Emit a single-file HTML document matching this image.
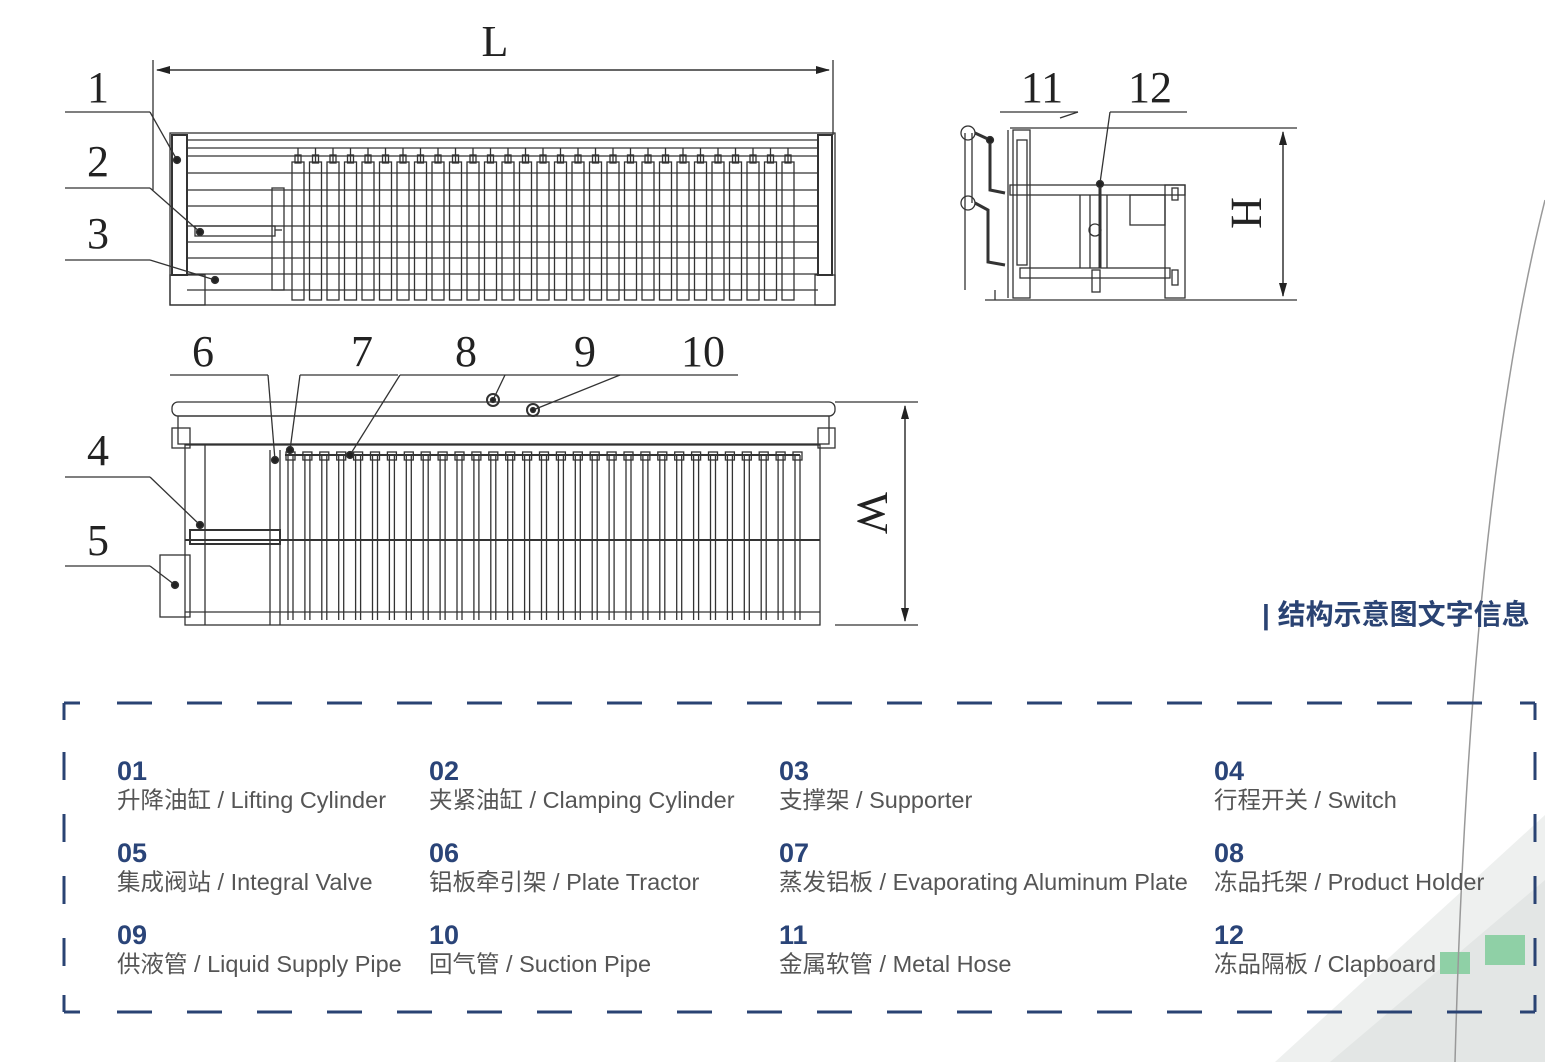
<!DOCTYPE html>
<html><head><meta charset="utf-8"><style>
html,body{margin:0;padding:0;background:#fff;}
svg{display:block;}
.num{font-family:"Liberation Sans",sans-serif;font-weight:bold;font-size:27px;fill:#2a4478;}
.txt{font-family:"Liberation Sans","Noto Sans CJK SC",sans-serif;font-size:23.5px;fill:#555;}
.lab{font-family:"Liberation Serif",serif;font-size:44px;fill:#222;}
</style></head><body>
<svg id="s" width="1545" height="1062" viewBox="0 0 1545 1062" xmlns="http://www.w3.org/2000/svg">
<defs>
<marker id="ar" markerWidth="14" markerHeight="8" refX="13" refY="4" orient="auto-start-reverse" markerUnits="userSpaceOnUse"><path d="M0,0 L14,4 L0,8 z" fill="#222"/></marker>
</defs>
<path d="M1275,1062 L1545,815 L1545,1062 z" fill="#eef0ef"/>
<path d="M1330,1062 L1545,880 L1545,1062 z" fill="#e3e6e5"/>
<rect x="1440" y="952" width="30" height="22" fill="#8fd0a6"/>
<rect x="1485" y="935" width="40" height="30" fill="#8fd0a6"/>
<path d="M1545,200 Q1470,500 1455,1062" stroke="#999" stroke-width="1.5" fill="none"/>
<g id="draw" stroke="#333" stroke-width="1.3" fill="none"></g>
<text class="lab" x="495" y="56" text-anchor="middle" font-size="52">L</text>
<text class="lab" x="98" y="102" text-anchor="middle">1</text>
<text class="lab" x="98" y="176" text-anchor="middle">2</text>
<text class="lab" x="98" y="248" text-anchor="middle">3</text>
<text class="lab" x="98" y="465" text-anchor="middle">4</text>
<text class="lab" x="98" y="555" text-anchor="middle">5</text>
<text class="lab" x="203" y="366" text-anchor="middle">6</text>
<text class="lab" x="362" y="366" text-anchor="middle">7</text>
<text class="lab" x="466" y="366" text-anchor="middle">8</text>
<text class="lab" x="585" y="366" text-anchor="middle">9</text>
<text class="lab" x="703" y="366" text-anchor="middle">10</text>
<text class="lab" x="1042" y="102" text-anchor="middle">11</text>
<text class="lab" x="1150" y="102" text-anchor="middle">12</text>
<text class="lab" transform="translate(1232,213) rotate(90)" text-anchor="middle" font-size="44">H</text>
<text class="lab" transform="translate(858,513) rotate(90)" text-anchor="middle" font-size="44">W</text>
<text x="1262" y="624" font-family="Liberation Sans,Noto Sans CJK SC,sans-serif" font-size="28" font-weight="bold" fill="#2a4373">| 结构示意图文字信息</text>
<g id="leg"></g>
<text class="num" x="117" y="780">01</text><text class="txt" x="117" y="808">升降油缸 / Lifting Cylinder</text>
<text class="num" x="429" y="780">02</text><text class="txt" x="429" y="808">夹紧油缸 / Clamping Cylinder</text>
<text class="num" x="779" y="780">03</text><text class="txt" x="779" y="808">支撑架 / Supporter</text>
<text class="num" x="1214" y="780">04</text><text class="txt" x="1214" y="808">行程开关 / Switch</text>
<text class="num" x="117" y="862">05</text><text class="txt" x="117" y="890">集成阀站 / Integral Valve</text>
<text class="num" x="429" y="862">06</text><text class="txt" x="429" y="890">铝板牵引架 / Plate Tractor</text>
<text class="num" x="779" y="862">07</text><text class="txt" x="779" y="890">蒸发铝板 / Evaporating Aluminum Plate</text>
<text class="num" x="1214" y="862">08</text><text class="txt" x="1214" y="890">冻品托架 / Product Holder</text>
<text class="num" x="117" y="944">09</text><text class="txt" x="117" y="972">供液管 / Liquid Supply Pipe</text>
<text class="num" x="429" y="944">10</text><text class="txt" x="429" y="972">回气管 / Suction Pipe</text>
<text class="num" x="779" y="944">11</text><text class="txt" x="779" y="972">金属软管 / Metal Hose</text>
<text class="num" x="1214" y="944">12</text><text class="txt" x="1214" y="972">冻品隔板 / Clapboard</text>
</svg>
<script>
var g=document.getElementById('draw'),NS='http://www.w3.org/2000/svg';
function el(t,a,p){var e=document.createElementNS(NS,t);for(var k in a)e.setAttribute(k,a[k]);(p||g).appendChild(e);return e;}
function L(x1,y1,x2,y2,w){el('line',{x1:x1,y1:y1,x2:x2,y2:y2,'stroke-width':w||1.3});}
function R(x,y,w,h,sw){el('rect',{x:x,y:y,width:w,height:h,'stroke-width':sw||1.3});}
function D(x,y,r){el('circle',{cx:x,cy:y,r:r||3.5,fill:'#222'});}
L(153,60,153,190);L(833,60,833,135);
el('line',{x1:157,y1:70,x2:829,y2:70,'marker-start':'url(#ar)','marker-end':'url(#ar)','stroke-width':1.5});
L(65,112,150,112);L(150,112,177,160);L(65,188,150,188);L(150,188,200,232);L(65,260,150,260);L(150,260,215,280);
R(170,133,665,172);
[140,148,156,173,190,206,226,242,258,274,290].forEach(function(y){L(187,y,818,y);});
R(172,135,15,140,2);R(818,135,14,140,2);R(170,275,35,30);R(815,275,20,30);
R(195,226,80,10);L(275,230,282,230);R(272,188,12,102);
for(var i=0;i<29;i++){var x=292+i*17.5;R(x,162,12,138);L(x+6,148,x+6,162);R(x+3,155,6,8);}
D(177,160);D(200,232);D(215,280);
L(1000,112,1078,112);L(1110,112,1187,112);L(1078,112,1060,118);L(1110,112,1100,183);
L(1010,128,1297,128);L(985,300,1297,300);
el('line',{x1:1283,y1:132,x2:1283,y2:296,'marker-start':'url(#ar)','marker-end':'url(#ar)','stroke-width':1.5});
R(1013,130,17,168);R(1017,140,10,125);L(1008,130,1008,298);L(995,290,995,300);
R(1010,185,175,10);R(1165,185,20,113);R(1020,268,150,10);R(1092,270,8,22);
L(1080,195,1080,268);L(1090,195,1090,268);L(1100,185,1100,268,3);L(1107,195,1107,268);
R(1130,195,35,30);R(1172,188,6,12);R(1172,270,6,15);
el('circle',{cx:968,cy:133,r:7});el('circle',{cx:968,cy:203,r:7});el('circle',{cx:1095,cy:230,r:6});
el('path',{d:'M975,133 L990,140 L990,190 L1005,193 M975,203 L988,210 L988,262 L1005,265','stroke-width':3});
L(965,133,965,290);L(972,133,972,203);D(990,140);D(1100,184);
L(170,375,268,375);L(300,375,398,375);L(400,375,505,375);L(505,375,620,375);L(620,375,738,375);
L(268,375,275,460);L(300,375,290,450);L(400,375,350,455);L(505,375,493,400);L(620,375,533,410);
L(65,477,150,477);L(150,477,200,525);L(65,566,150,566);L(150,566,175,585);
el('rect',{x:172,y:402,width:663,height:14,rx:6});
R(178,416,651,28);R(172,428,18,20);R(818,428,17,20);
L(835,402,918,402);L(835,625,918,625);
el('line',{x1:905,y1:406,x2:905,y2:621,'marker-start':'url(#ar)','marker-end':'url(#ar)','stroke-width':1.5});
R(185,445,635,180);L(270,450,270,625);L(280,450,280,625);R(160,555,30,62);
L(185,540,820,540,2);R(190,530,90,14,2);L(205,445,205,625);L(185,612,820,612);
for(var j=0;j<31;j++){var xx=288+j*16.9;L(xx,455,xx,620);L(xx+5,455,xx+5,620);R(xx-2,452,9,8);}
L(285,455,800,455,2);
D(275,460);D(290,450);D(350,455);el('circle',{cx:493,cy:400,r:6,'stroke-width':2});D(493,400,2.5);el('circle',{cx:533,cy:410,r:6,'stroke-width':2});D(533,410,2.5);D(200,525);D(175,585);
var lg=document.getElementById('leg');
function LL(x1,y1,x2,y2){el('line',{x1:x1,y1:y1,x2:x2,y2:y2,stroke:'#2a4373','stroke-width':3},lg);}
LL(64,703,80,703);LL(64,703,64,720);LL(1520,703,1535,703);LL(1535,703,1535,720);
LL(64,1012,80,1012);LL(64,995,64,1012);LL(1520,1012,1535,1012);LL(1535,995,1535,1012);
for(var x=117;x<1500;x+=70){LL(x,703,x+35,703);LL(x,1012,x+35,1012);}
for(var y=752;y<990;y+=62){LL(64,y,64,y+28);LL(1535,y,1535,y+28);}
</script>
</body></html>
